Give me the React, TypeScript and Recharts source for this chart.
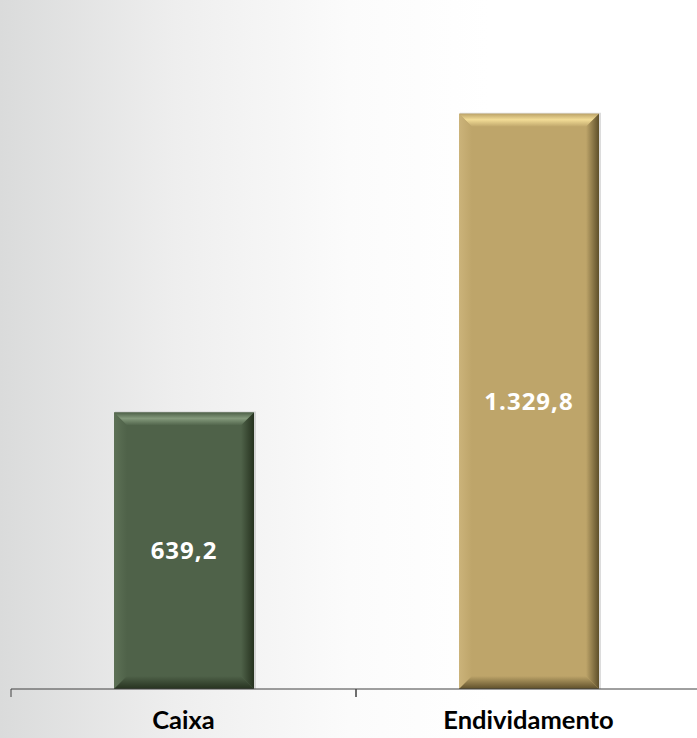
import React from "react";
import { BarChart, Bar, XAxis, YAxis, LabelList } from "recharts";

const categories = ["Caixa", "Endividamento"];
const values = [639.2, 1329.8];
const valueLabels = ["639,2", "1.329,8"];
const yDomain = [0, 1600];

const palettes = [
  { base: "#4f6249", light: "#849a7c", dark: "#26321f", side: "#5d7156" },
  { base: "#bea56a", light: "#f2dc96", dark: "#5e4f2a", side: "#cbb37a" },
];

const data = categories.map((c, i) => ({ name: c, value: values[i], label: valueLabels[i] }));

const BevelBar = (props: any) => {
  const x = Number(props.x);
  const y = Number(props.y);
  const width = Number(props.width);
  const height = Number(props.height);
  let idx = categories.indexOf(props.payload ? props.payload.name : props.name);
  if (idx < 0) idx = Number(props.index) || 0;
  const p = palettes[idx % palettes.length];
  const b = 13;
  const id = `bv${idx}`;
  const x2 = x + width;
  const y2 = y + height;
  return (
    <g>
      <defs>
        <linearGradient id={`${id}t`} x1="0" y1="0" x2="0" y2="1">
          <stop offset="0%" stopColor={p.base} />
          <stop offset="45%" stopColor={p.light} />
          <stop offset="100%" stopColor={p.base} />
        </linearGradient>
        <linearGradient id={`${id}r`} x1="0" y1="0" x2="1" y2="0">
          <stop offset="0%" stopColor={p.base} />
          <stop offset="100%" stopColor={p.dark} />
        </linearGradient>
        <linearGradient id={`${id}b`} x1="0" y1="0" x2="0" y2="1">
          <stop offset="0%" stopColor={p.base} />
          <stop offset="100%" stopColor={p.dark} />
        </linearGradient>
        <linearGradient id={`${id}l`} x1="0" y1="0" x2="1" y2="0">
          <stop offset="0%" stopColor={p.side} />
          <stop offset="100%" stopColor={p.base} />
        </linearGradient>
      </defs>
      <path d={`M${x + 1},${y - 1} H${x2 + 2} V${y2} H${x + 1} Z`} fill="#9a9a9a" fillOpacity={0.35} />
      <path d={`M${x},${y} H${x2} V${y2} H${x} Z`} fill={p.base} />
      <polygon points={`${x},${y} ${x2},${y} ${x2 - b},${y + b} ${x + b},${y + b}`} fill={`url(#${id}t)`} />
      <polygon points={`${x},${y} ${x + b},${y + b} ${x + b},${y2 - b} ${x},${y2}`} fill={`url(#${id}l)`} />
      <polygon points={`${x2},${y} ${x2},${y2} ${x2 - b},${y2 - b} ${x2 - b},${y + b}`} fill={`url(#${id}r)`} />
      <polygon points={`${x},${y2} ${x2},${y2} ${x2 - b},${y2 - b} ${x + b},${y2 - b}`} fill={`url(#${id}b)`} />
    </g>
  );
};

const CatTick = (props: any) => {
  const { x, y, payload } = props;
  const half = payload && payload.offset ? payload.offset : 172.5;
  return (
    <g>
      <line x1={x - half} y1={y - 8} x2={x - half} y2={y} stroke="#404040" strokeWidth={1} />
      <line x1={x + half} y1={y - 8} x2={x + half} y2={y} stroke="#404040" strokeWidth={1} />
      <text x={x} y={y + 32} textAnchor="middle" fontFamily="Lato" fontWeight={700} fontSize={25.5} fill="#000">
        {payload.value}
      </text>
    </g>
  );
};

export default function App() {
  return (
    <div
      style={{
        position: "absolute",
        left: 0,
        top: 0,
        width: 697,
        height: 738,
        overflow: "hidden",
        background: "linear-gradient(to right, #dadbdb 0%, #eeeeee 25%, #fbfbfb 50%, #ffffff 70%)",
      }}
    >
      <BarChart
        width={697}
        height={738}
        data={data}
        margin={{ top: -3, right: -4, bottom: 0, left: 11 }}
        barSize={140}
      >
        <YAxis hide domain={yDomain} />
        <XAxis
          dataKey="name"
          height={49}
          axisLine={{ stroke: "#404040", strokeWidth: 1 }}
          tickLine={false}
          tick={<CatTick />}
          interval={0}
        />
        <Bar dataKey="value" isAnimationActive={false} shape={<BevelBar />}>
          <LabelList
            dataKey="label"
            position="center"
            fill="#ffffff"
            fontFamily="Open Sans"
            fontWeight={700}
            fontSize={24}
            letterSpacing={1}
          />
        </Bar>
      </BarChart>
    </div>
  );
}
